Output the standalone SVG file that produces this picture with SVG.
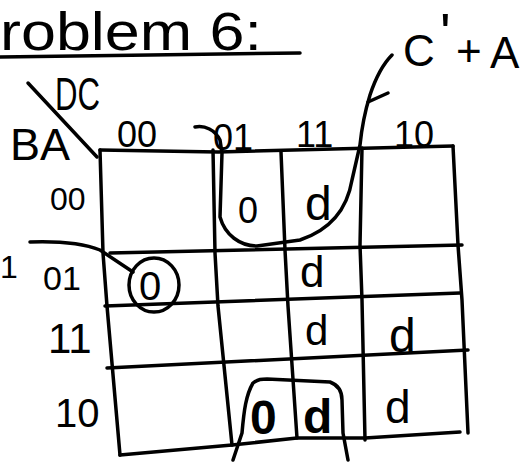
<svg xmlns="http://www.w3.org/2000/svg" width="522" height="462" viewBox="0 0 522 462">
<style>
.s{fill:none;stroke:#000;stroke-width:3.5;stroke-linecap:round;stroke-linejoin:round}
.t{font-family:"Liberation Sans","DejaVu Sans",sans-serif;fill:#000}
</style>
<rect width="522" height="462" fill="#fff"/>
<g id="title">
<text class="t" x="0" y="50" font-size="54" textLength="262" lengthAdjust="spacingAndGlyphs">roblem 6:</text>
<path class="s" d="M0,57 L150,55 L300,53"/>
</g>
<g id="expression">
<text class="t" font-size="44"><tspan x="403" y="66">C</tspan><tspan x="440" y="52" font-size="56">'</tspan><tspan x="456" y="66">+</tspan><tspan x="490" y="68">A</tspan></text>
</g>
<g id="grid">
<path class="s" d="M100,150 L218,152 L453,146"/>
<path class="s" d="M100,150 L103,253 L107,306 L120,455"/>
<path class="s" d="M120,455 L232,445 L297,438 L365,438 L460,432"/>
<path class="s" d="M453,146 L458,245 L462,300 L468,433"/>
<path class="s" d="M213,150 L215,253 L218,306 L232,445"/>
<path class="s" d="M281,152 L285,250 L288,306 L297,438"/>
<path class="s" d="M362,148 L360,245 L362,300 L365,440"/>
<path class="s" d="M110,253 L462,245"/>
<path class="s" d="M105,306 L460,293"/>
<path class="s" d="M107,368 L468,350"/>
<path class="s" d="M28,83 L97,157" stroke-width="5"/>
</g>
<g id="labels">
<text class="t" x="55" y="110" font-size="46" textLength="45" lengthAdjust="spacingAndGlyphs">DC</text>
<text class="t" x="10" y="160" font-size="44" textLength="60" lengthAdjust="spacingAndGlyphs">BA</text>
<text class="t" x="117" y="147" font-size="36">00</text>
<text class="t" x="213" y="150" font-size="36">01</text>
<text class="t" x="296" y="147" font-size="36">11</text>
<text class="t" x="394" y="147" font-size="36">10</text>
<text class="t" x="50" y="210" font-size="32">00</text>
<text class="t" x="43" y="290" font-size="34">01</text>
<text class="t" x="48" y="353" font-size="42">11</text>
<text class="t" x="55" y="427" font-size="40">10</text>
<text class="t" x="0" y="278" font-size="32">1</text>
</g>
<g id="cells">
<text class="t" x="238" y="223" font-size="36">0</text>
<text class="t" x="305" y="220" font-size="48">d</text>
<text class="t" x="300" y="287" font-size="44">d</text>
<text class="t" x="305" y="345" font-size="42">d</text>
<text class="t" x="389" y="352" font-size="48">d</text>
<text class="t" x="139" y="300" font-size="40">0</text>
<text class="t" x="250" y="434" font-size="48" font-weight="bold">0</text>
<text class="t" x="303" y="433" font-size="48" font-weight="bold">d</text>
<text class="t" x="385" y="423" font-size="46">d</text>
</g>
<g id="connectors">
<path class="s" d="M30,242 C60,241 85,244 100,250 L133,272"/>
<ellipse class="s" cx="154" cy="285" rx="25" ry="27"/>
<path class="s" d="M195,127 C205,125 215,130 220,140 L222,153 L220,217 C225,235 240,246 257,246 L300,240 C330,230 347,210 352,180 L360,145 C362,125 366,108 370,95 C375,80 382,65 392,55"/>
<path class="s" d="M368,102 L388,93"/>
<path class="s" d="M233,460 L242,433 C244,410 246,395 253,383 C258,379 262,379 267,379 L330,382 C338,385 342,392 342,400 L343,433 L348,460"/>
</g>
</svg>
